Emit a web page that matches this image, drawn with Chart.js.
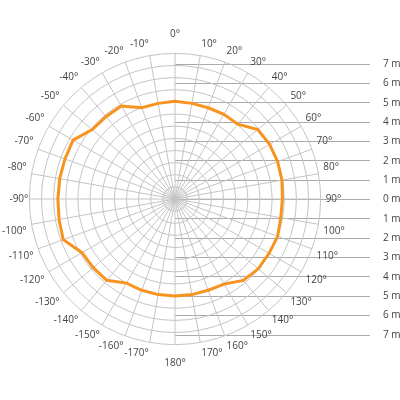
<!DOCTYPE html>
<html>
<head>
<meta charset="utf-8">
<script src="https://cdn.jsdelivr.net/npm/chart.js@4.4.1/dist/chart.umd.min.js"></script>
<style>
  html, body { margin: 0; padding: 0; background: #fff; }
  #wrap { position: relative; width: 400px; height: 400px; overflow: hidden; }
  .box { position: absolute; }
</style>
</head>
<body>
<div id="wrap">
  <div class="box" id="distBox" style="left:175px; top:0px; width:225px; height:400px;"><canvas id="dist" width="225" height="400"></canvas></div>
  <div class="box" id="polarBox" style="left:1px; top:-1px; width:346px; height:400px;"><canvas id="polar" width="346" height="400"></canvas></div>
</div>
<script>
// Angle categories (clockwise from top)
const angleLabels = ['0°','10°','20°','30°','40°','50°','60°','70°','80°','90°','100°','110°','120°','130°','140°','150°','160°','170°','180°',
  '-170°','-160°','-150°','-140°','-130°','-120°','-110°','-100°','-90°','-80°','-70°','-60°','-50°','-40°','-30°','-20°','-10°'];
// Radial values (ring units)
const beamValues = [8.05, 8.0, 8.0, 8.05, 8.05, 8.9, 9.0, 9.0, 8.95, 8.85, 8.85, 9.0, 8.95, 8.95, 8.75, 8.1, 8.0, 8.0, 8.0,
  8.0, 8.0, 8.0, 8.75, 8.8, 8.85, 9.8, 9.7, 9.65, 9.65, 9.65, 9.7, 8.9, 8.85, 8.85, 8.0, 8.0];
// Ring scale
const ringMax = 12;
// Distance scale ticks (m), top to bottom
const distTicks = [7, 6, 5, 4, 3, 2, 1, 0, -1, -2, -3, -4, -5, -6, -7];

const fontFam = "'Open Sans', 'Liberation Sans', sans-serif";

new Chart(document.getElementById('dist'), {
  type: 'line',
  data: { labels: ['a'], datasets: [] },
  options: {
    responsive: false, animation: false,
    layout: { padding: { top: 64, bottom: 65, left: 0, right: 0 } },
    plugins: { legend: { display: false }, tooltip: { enabled: false } },
    scales: {
      x: { display: false },
      y: {
        position: 'right',
        min: distTicks[distTicks.length - 1], max: distTicks[0],
        afterBuildTicks: s => { s.ticks = distTicks.map(v => ({ value: v })); },
        afterFit: s => { s.width = 30; },
        border: { display: false },
        grid: { color: '#aaaaaa', lineWidth: 1, drawTicks: false },
        ticks: {
          padding: 13, color: '#444',
          font: { family: fontFam, size: 10 },
          callback: v => Math.abs(v) + ' m'
        }
      }
    }
  }
});

new Chart(document.getElementById('polar'), {
  type: 'radar',
  data: {
    labels: angleLabels,
    datasets: [{
      data: beamValues,
      borderColor: '#f7931e',
      borderWidth: 3,
      pointRadius: 0,
      fill: false,
      tension: 0
    }]
  },
  options: {
    responsive: false, animation: false,
    layout: { padding: 0 },
    plugins: { legend: { display: false }, tooltip: { enabled: false } },
    scales: {
      r: {
        min: 0, max: ringMax,
        ticks: { display: false, stepSize: 1 },
        grid: { circular: true, color: '#c4c4c4', lineWidth: 1 },
        angleLines: { color: '#c4c4c4', lineWidth: 1 },
        pointLabels: {
          color: '#444',
          font: { family: fontFam, size: 10 },
          padding: ctx => (ctx.index === 0 || ctx.index === 18) ? 13 : (ctx.index === 27 ? 1 : 5)
        }
      }
    }
  }
});
</script>
</body>
</html>
